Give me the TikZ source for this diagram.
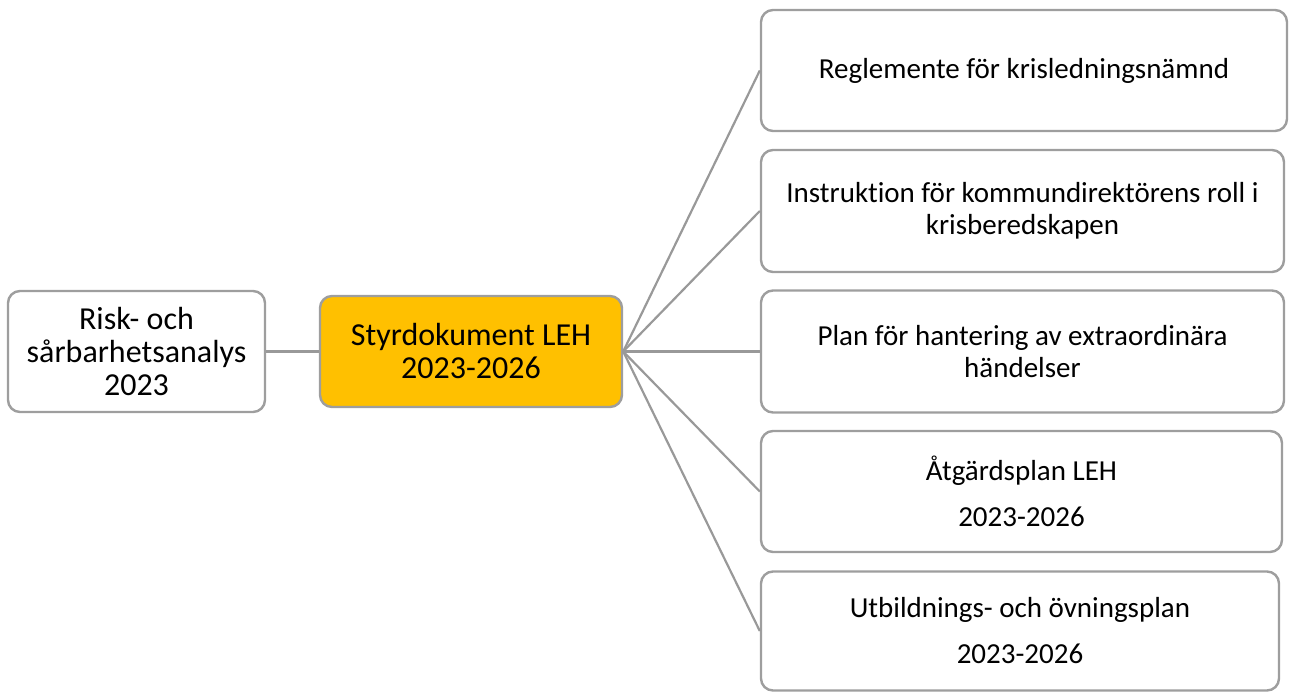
\documentclass[tikz,border=0pt]{standalone}
\usepackage{fontspec}
\setmainfont{Carlito}[Ligatures=NoCommon]
\definecolor{edgegray}{HTML}{999999}
\definecolor{boxgray}{HTML}{9E9E9E}
\definecolor{gold}{HTML}{FFC000}
\tikzset{
  docbox/.style={draw=boxgray, line width=2.4pt, rounded corners=12pt, fill=white,
    inner sep=0pt, align=center, text=black},
  bigtext/.style={font=\fontsize{32}{33}\selectfont},
  smalltext/.style={font=\fontsize{29}{31.5}\selectfont},
  link/.style={draw=edgegray, line width=2.2pt}
}
\begin{document}
\begin{tikzpicture}[x=1pt,y=-1pt]
\useasboundingbox (0,0) rectangle (1293,691);
\node[docbox, bigtext, minimum width=257pt, minimum height=121pt] (rsa) at (136.5,351.5)
  {Risk- och\\sårbarhetsanalys\\2023};
\node[docbox, bigtext, fill=gold, minimum width=302pt, minimum height=111pt] (sd) at (471,351.5)
  {Styrdokument LEH\\2023-2026};
\node[docbox, smalltext, minimum width=526pt, minimum height=121pt] (r1) at (1024,70.5)
  {\raisebox{-2pt}{Reglemente för krisledningsnämnd}};
\node[docbox, smalltext, minimum width=523pt, minimum height=122pt] (r2) at (1022.5,211)
  {Instruktion för kommundirektörens roll i\\krisberedskapen};
\node[docbox, smalltext, minimum width=523pt, minimum height=122pt] (r3) at (1022.5,351.5)
  {Plan för hantering av extraordinära\\händelser};
\node[docbox, smalltext, minimum width=521pt, minimum height=121pt] (r4) at (1021.5,491.5)
  {Åtgärdsplan LEH\\[14.5pt]2023-2026};
\node[docbox, smalltext, minimum width=518pt, minimum height=119pt] (r5) at (1020,631)
  {Utbildnings- och övningsplan\\[14.5pt]2023-2026};
\draw[link] (rsa.east) -- (sd.west);
\foreach \r in {r1,r2,r3,r4,r5}{
  \draw[link] (sd.east) -- (\r.west);
}
\end{tikzpicture}
\end{document}
